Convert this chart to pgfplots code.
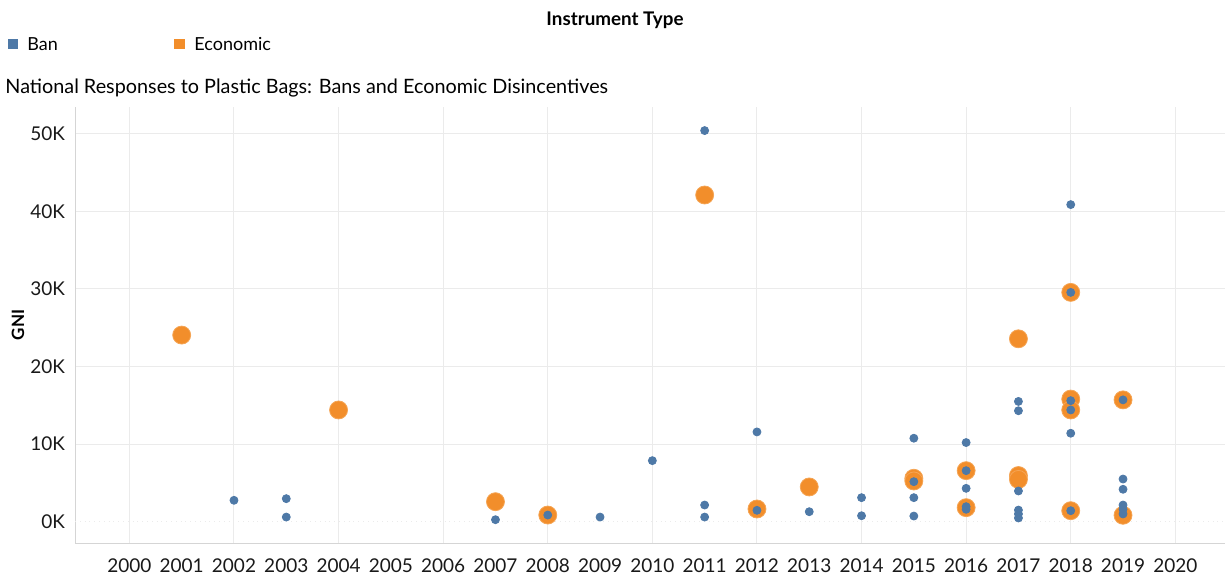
\documentclass[border=0pt]{standalone}
\usepackage{pgfplots}
\pgfplotsset{compat=1.18}
\usepackage{fontspec}
\setmainfont{Lato}
\definecolor{banblue}{HTML}{4E79A7}
\definecolor{ecoorange}{HTML}{F28E2B}
\definecolor{gridgray}{HTML}{EBEBEB}

\begin{document}
\begin{tikzpicture}
\useasboundingbox (0,0) rectangle (612.5pt,288pt);

% header: legend and title
\node[font=\bfseries\fontsize{9.4}{11}\selectfont, anchor=center] at (307.5pt,278pt) {Instrument Type};
\fill[banblue] (4pt,263.3pt) rectangle (9.2pt,268.5pt);
\node[font=\fontsize{9}{11}\selectfont, anchor=west, inner sep=0pt] at (13.5pt,266pt) {Ban};
\fill[ecoorange] (87pt,263.3pt) rectangle (92.7pt,268.5pt);
\node[font=\fontsize{9}{11}\selectfont, anchor=west, inner sep=0pt] at (97pt,266pt) {Economic};
\node[font=\fontsize{9.9}{12}\selectfont, anchor=west, inner sep=0pt] at (2.5pt,244pt) {National Responses to Plastic Bags: Bans and Economic Disincentives};
\node[font=\bfseries\fontsize{8.5}{10}\selectfont, rotate=90, anchor=center] at (9pt,125.5pt) {GNI};

\begin{axis}[
  at={(37.5pt,16.35pt)}, anchor=south west,
  scale only axis,
  width=575pt, height=218pt,
  xmin=1998.96, xmax=2020.95,
  ymin=-2780, ymax=53400,
  axis x line*=bottom, axis y line*=left,
  axis line style={gridgray!80!gray, line width=0.5pt, -},
  major tick length=0pt,
  scaled y ticks=false,
  xtick={2000,2002,...,2020},
  xticklabels={2000,2002,2004,2006,2008,2010,2012,2014,2016,2018,2020},
  extra x ticks={2001,2003,...,2019},
  extra x tick labels={2001,2003,2005,2007,2009,2011,2013,2015,2017,2019},
  extra x tick style={xmajorgrids=false},
  ytick={10000,20000,30000,40000,50000},
  yticklabels={10K,20K,30K,40K,50K},
  extra y ticks={0},
  extra y tick labels={0K},
  extra y tick style={grid style={gray!75, dotted, line width=0.6pt}},
  grid=major,
  major grid style={gridgray, line width=0.5pt},
  tick label style={font=\fontsize{9.5}{11}\selectfont, text=black!90},
  xticklabel style={yshift=-4pt},
  yticklabel style={xshift=-1.5pt},
  /pgf/number format/assume math mode=true,
  clip=false,
]
\addplot[only marks, mark=*, mark size=4.5pt, mark options={fill=ecoorange, draw=ecoorange!80!white, line width=0.4pt}] coordinates {
  (2001,24050) (2004,14400) (2007,2580) (2008,860) (2011,42100)
  (2012,1640) (2013,4480) (2015,5600) (2015,5250) (2016,6580)
  (2016,1810) (2017,23570) (2017,5950) (2017,5450) (2018,29550)
  (2018,15800) (2018,14400) (2018,1420) (2019,15700) (2019,830)
};
\addplot[only marks, mark=*, mark size=2pt, mark options={fill=banblue, draw=banblue}] coordinates {
  (2002,2760) (2003,2970) (2003,600) (2007,260) (2008,860)
  (2009,600) (2010,7870) (2011,50400) (2011,2150) (2011,600)
  (2012,11570) (2012,1470) (2013,1290) (2014,3100) (2014,770)
  (2015,10760) (2015,5160) (2015,3100) (2015,730)
  (2016,10200) (2016,6580) (2016,4300) (2016,1940) (2016,1600)
  (2017,15500) (2017,14300) (2017,3960) (2017,1500) (2017,1000) (2017,480)
  (2018,40860) (2018,29550) (2018,15600) (2018,14400) (2018,11400) (2018,1420)
  (2019,15700) (2019,5500) (2019,4180) (2019,2150) (2019,1600) (2019,1000)
};
\end{axis}
\end{tikzpicture}
\end{document}
